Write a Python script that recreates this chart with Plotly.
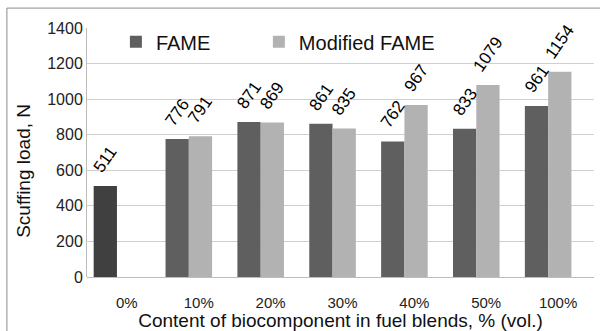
import plotly.graph_objects as go

categories = ["0%", "10%", "20%", "30%", "40%", "50%", "100%"]
fame = [511, 776, 871, 861, 762, 833, 961]
modified = [None, 791, 869, 835, 967, 1079, 1154]
fame_colors = ["#404040"] + ["#5f5f5f"] * 6
fame_color = "#5f5f5f"
mod_color = "#b2b2b2"

font_family = "Liberation Sans, Arial, sans-serif"
BAR_W = 0.324
FAME_OFF = -0.462
MOD_OFF = -0.138

fig = go.Figure()
fig.add_trace(go.Bar(
    x=categories, y=fame, name="FAME", showlegend=False,
    marker=dict(color=fame_colors, line=dict(width=0)),
    width=BAR_W, offset=FAME_OFF,
))
fig.add_trace(go.Bar(
    x=[None], y=[None], name="FAME", legend="legend",
    marker=dict(color=fame_color, line=dict(width=0)),
))
fig.add_trace(go.Bar(
    x=categories, y=modified, name="Modified FAME", legend="legend2",
    marker=dict(color=mod_color, line=dict(width=0)),
    width=BAR_W, offset=MOD_OFF,
))

for series, off in ((fame, FAME_OFF), (modified, MOD_OFF)):
    for i, v in enumerate(series):
        if v is None:
            continue
        fig.add_annotation(
            x=i + off + BAR_W / 2, y=v, xref="x", yref="y",
            text=str(v), showarrow=False, textangle=-55,
            xanchor="center", yanchor="bottom", yshift=7,
            font=dict(size=17, color="#000000", family=font_family),
        )

# y-axis title (placed as in the reference, slightly below the axis middle)
fig.add_annotation(
    x=-0.124, y=0.427, xref="paper", yref="paper",
    text="Scuffing load, N", showarrow=False, textangle=-90,
    xanchor="center", yanchor="middle",
    font=dict(size=19, color="#111111", family=font_family),
)

legend_common = dict(
    orientation="h", y=0.945, xanchor="left", yanchor="middle",
    font=dict(size=20, color="#111111"), bgcolor="rgba(0,0,0,0)", itemwidth=30,
)

fig.update_layout(
    width=600, height=331,
    margin=dict(l=87, r=6, t=28, b=54),
    paper_bgcolor="white", plot_bgcolor="white",
    font=dict(family=font_family, color="#222222"),
    barmode="group",
    showlegend=True,
    legend=dict(x=0.057, **legend_common),
    legend2=dict(x=0.339, **legend_common),
    xaxis=dict(
        showgrid=False, showline=False, ticks="",
        tickfont=dict(size=15, color="#222222"), ticklabelstandoff=15,
        title=dict(text="Content of biocomponent in fuel blends, % (vol.)",
                   font=dict(size=19, color="#111111"), standoff=4),
        automargin=False,
    ),
    yaxis=dict(
        range=[0, 1400], dtick=200, tick0=0,
        showgrid=True, gridcolor="#d0d0d0", gridwidth=1,
        showline=True, linecolor="#bdbdbd", linewidth=1,
        zeroline=True, zerolinecolor="#bdbdbd", zerolinewidth=1,
        ticks="", tickfont=dict(size=16, color="#222222"),
        automargin=False,
    ),
)

fig.add_shape(type="rect", xref="paper", yref="paper",
              x0=-0.158, x1=1.05, y0=-0.3, y1=1.08,
              line=dict(color="#8a8a8a", width=1), fillcolor="rgba(0,0,0,0)", layer="below")

fig.write_html("out.html")
